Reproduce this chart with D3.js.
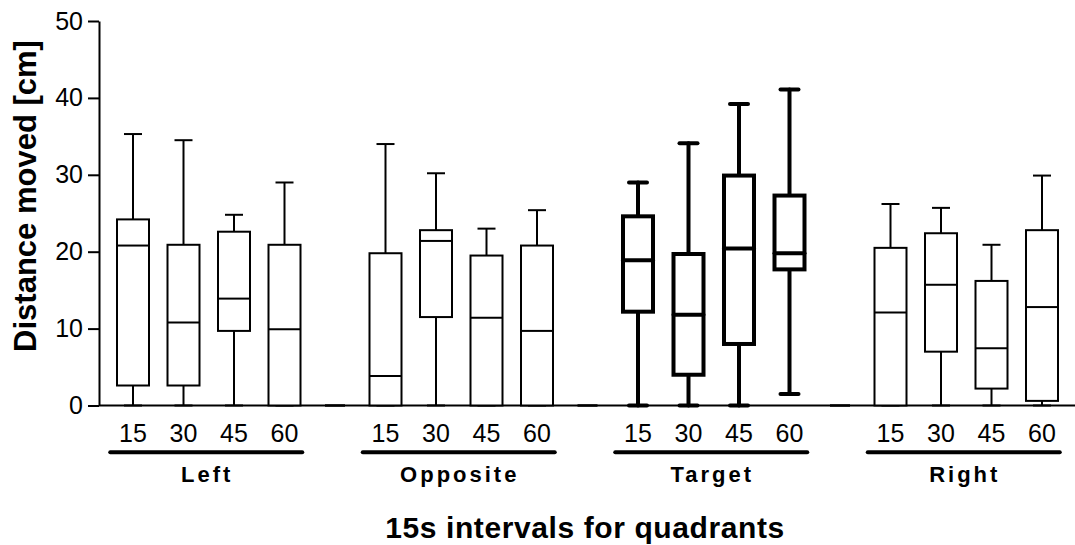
<!DOCTYPE html>
<html>
<head>
<meta charset="utf-8">
<style>
    body { margin: 0; background: #fff; }
    svg { display: block; font-family: 'Liberation Sans', Arial, sans-serif; }
    .y .tick text { font-size: 25px; fill: #000; }
    .y .tick line, .y .domain { stroke: #000; stroke-width: 2px; }
    .interval { font-size: 25px; }
    .group-label { font-size: 22px; font-weight: bold; letter-spacing: 3px; }
    .title { font-size: 30px; font-weight: bold; letter-spacing: 0.6px; }
    .ylabel { font-size: 31px; font-weight: bold; }
</style>
</head>
<body>
<svg width="1075" height="545"></svg>
<script src="https://d3js.org/d3.v7.min.js"></script>
<script>
// quadrants and 15 s intervals
const groups = ["Left", "Opposite", "Target", "Right"];
const intervals = ["15", "30", "45", "60"];
const yTicks = [0, 10, 20, 30, 40, 50];

// box statistics, listed group by group (Left, Opposite, Target, Right), 4 intervals each
const whiskerHigh = [35.3, 34.5, 24.8, 29.0,  34.0, 30.2, 23.0, 25.4,  29.0, 34.1, 39.2, 41.1,  26.2, 25.7, 20.9, 29.9];
const q3          = [24.2, 20.9, 22.6, 20.9,  19.8, 22.8, 19.5, 20.8,  24.6, 19.7, 29.9, 27.3,  20.5, 22.4, 16.2, 22.8];
const median      = [20.8, 10.8, 13.9,  9.9,   3.85, 21.4, 11.4, 9.7,  18.9, 11.8, 20.4, 19.8,  12.1, 15.7, 7.45, 12.8];
const q1          = [ 2.6,  2.6,  9.7,  0.0,   0.0, 11.5,  0.0, 0.0,   12.2, 4.0,  8.0, 17.7,   0.0,  7.0,  2.2,  0.6];
const whiskerLow  = [ 0.0,  0.0,  0.0,  0.0,   0.0,  0.0,  0.0, 0.0,   0.0,  0.0,  0.0,  1.5,   0.0,  0.0,  0.0,  0.0];

const highlighted = "Target";

const svg = d3.select("svg");
const margin = { top: 21, bottom: 405.5, left: 99, right: 1075 };

// one slot per box plus an empty slot between quadrants
let slots = [];
groups.forEach((g, gi) => {
    intervals.forEach(iv => slots.push(g + "|" + iv));
    if (gi < groups.length - 1) slots.push("gap" + gi);
});

const boxes = [];
groups.forEach((g, gi) => {
    intervals.forEach((iv, ii) => {
        const k = gi * intervals.length + ii;
        boxes.push({
            group: g, interval: iv, key: g + "|" + iv,
            lo: whiskerLow[k], q1: q1[k], med: median[k], q3: q3[k], hi: whiskerHigh[k]
        });
    });
});

const x = d3.scaleBand()
    .domain(slots)
    .range([107.75, 1067.25]);

const y = d3.scaleLinear()
    .domain([0, 50])
    .range([margin.bottom, margin.top]);

const boxW = 32;
const capW = 18;

// y axis
svg.append("g")
    .attr("class", "y axis")
    .attr("transform", `translate(${margin.left},0)`)
    .call(d3.axisLeft(y).tickValues(yTicks).tickSize(11).tickPadding(5).tickSizeOuter(0));

// x baseline
svg.append("line")
    .attr("x1", margin.left)
    .attr("x2", margin.right)
    .attr("y1", y(0))
    .attr("y2", y(0))
    .style("stroke", "#000")
    .style("stroke-width", "2px");

// empty slots collapse to a flat mark on the baseline
svg.append("g")
    .selectAll("line")
    .data(slots.filter(s => s.startsWith("gap")))
    .join("line")
    .attr("x1", d => x(d) + x.bandwidth() / 2 - 10)
    .attr("x2", d => x(d) + x.bandwidth() / 2 + 10)
    .attr("y1", y(0))
    .attr("y2", y(0))
    .style("stroke", "#000")
    .style("stroke-width", "2.5px");

const box = svg.append("g")
    .selectAll("g")
    .data(boxes)
    .join("g")
    .attr("transform", d => `translate(${x(d.key) + x.bandwidth() / 2},0)`)
    .style("stroke", "#000")
    .style("fill", "none")
    .style("stroke-width", d => d.group == highlighted ? "4px" : "2px")
    .style("stroke-linecap", d => d.group == highlighted ? "round" : "butt");

// whiskers
box.append("line")
    .attr("x1", 0).attr("x2", 0)
    .attr("y1", d => y(d.hi)).attr("y2", d => y(d.q3));
box.append("line")
    .attr("x1", 0).attr("x2", 0)
    .attr("y1", d => y(d.q1)).attr("y2", d => y(d.lo));
box.append("line")
    .attr("x1", -capW / 2).attr("x2", capW / 2)
    .attr("y1", d => y(d.hi)).attr("y2", d => y(d.hi));
box.append("line")
    .attr("x1", -capW / 2).attr("x2", capW / 2)
    .attr("y1", d => y(d.lo)).attr("y2", d => y(d.lo));

// box and median
box.append("rect")
    .attr("x", d => d.group == highlighted ? -boxW / 2 + 1 : -boxW / 2)
    .attr("width", d => d.group == highlighted ? boxW - 2 : boxW)
    .attr("y", d => y(d.q3))
    .attr("height", d => y(d.q1) - y(d.q3))
    .style("fill", "#fff");
box.append("line")
    .attr("x1", d => d.group == highlighted ? -boxW / 2 + 1 : -boxW / 2)
    .attr("x2", d => d.group == highlighted ? boxW / 2 - 1 : boxW / 2)
    .attr("y1", d => y(d.med)).attr("y2", d => y(d.med));

// interval labels
svg.append("g")
    .selectAll("text")
    .data(boxes)
    .join("text")
    .attr("class", "interval")
    .attr("x", d => x(d.key) + x.bandwidth() / 2)
    .attr("y", 441.5)
    .attr("text-anchor", "middle")
    .text(d => d.interval);

// quadrant underline and label
const groupCenter = g => {
    const a = x(g + "|" + intervals[0]);
    const b = x(g + "|" + intervals[intervals.length - 1]) + x.bandwidth();
    return (a + b) / 2;
};

svg.append("g")
    .selectAll("line")
    .data(groups)
    .join("line")
    .attr("x1", d => groupCenter(d) - 2.5 - 96)
    .attr("x2", d => groupCenter(d) - 2.5 + 96)
    .attr("y1", 452.3)
    .attr("y2", 452.3)
    .style("stroke", "#000")
    .style("stroke-width", "4px")
    .style("stroke-linecap", "round");

svg.append("g")
    .selectAll("text")
    .data(groups)
    .join("text")
    .attr("class", "group-label")
    .attr("x", d => groupCenter(d) - 1.5)
    .attr("y", 482.3)
    .attr("text-anchor", "middle")
    .text(d => d);

// axis titles
svg.append("text")
    .attr("class", "title")
    .attr("x", 585)
    .attr("y", 537.5)
    .attr("text-anchor", "middle")
    .text("15s intervals for quadrants");

svg.append("text")
    .attr("class", "ylabel")
    .attr("transform", "translate(36,196) rotate(-90)")
    .attr("text-anchor", "middle")
    .text("Distance moved [cm]");
</script>
</body>
</html>
